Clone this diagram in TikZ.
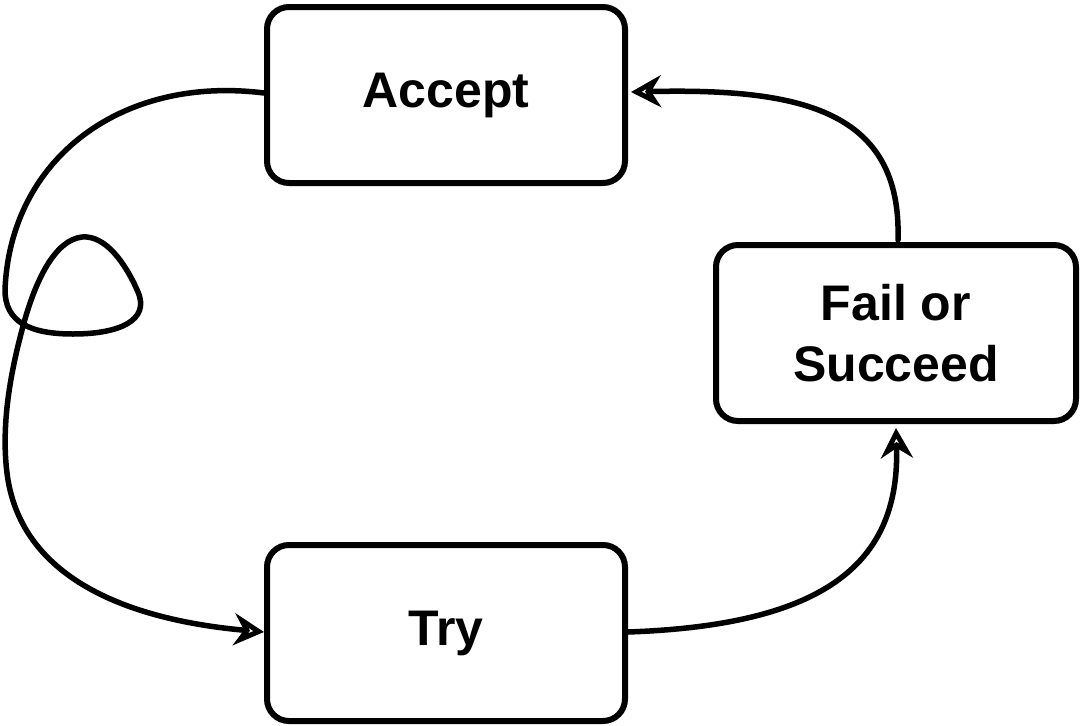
\documentclass[tikz,border=0pt]{standalone}
\usepackage{fontspec}
\setmainfont{Liberation Sans}
\usetikzlibrary{arrows.meta}
\begin{document}
\begin{tikzpicture}[x=1pt,y=-1pt,
  box/.style={draw, line width=6pt, rounded corners=22pt, minimum width=358pt, minimum height=176pt, inner sep=0pt, align=center, font=\fontsize{50}{61}\selectfont\bfseries},
  conn/.style={line width=5.5pt, line cap=round, line join=round, -{Stealth[open, length=30pt, width=32pt, inset=10pt, line width=5.5pt]}}]
\useasboundingbox (0,0) rectangle (1080,726);
\node[box] (accept) at (446,95) {Accept};
\node[box, minimum width=360pt] (fail) at (896,333) {Fail or\\Succeed};
\node[box] (try) at (446,633) {Try};
\coordinate (a) at (accept.west |- 0,93);
\coordinate (t) at (try.west |- 0,632);
\draw[conn] (a) .. controls (120,75) and (10,160) .. (5,290)
  .. controls (5,322) and (30,334) .. (73,334)
  .. controls (120,334) and (150,320) .. (138,292)
  .. controls (125,262) and (105,235) .. (82,237)
  .. controls (55,240) and (35,280) .. (22,330)
  .. controls (10,375) and (0,430) .. (8,480)
  .. controls (25,580) and (130,620) .. (t);
\coordinate (tr) at (try.east |- 0,632);
\coordinate (fb) at (896,428);
\draw[conn] (tr) .. controls (830,625) and (900,560) .. (fb);
\coordinate (ft) at (898,240);
\coordinate (ar) at (631,92);
\draw[conn] (ft) .. controls (902,110) and (800,88) .. (ar);
\end{tikzpicture}
\end{document}
